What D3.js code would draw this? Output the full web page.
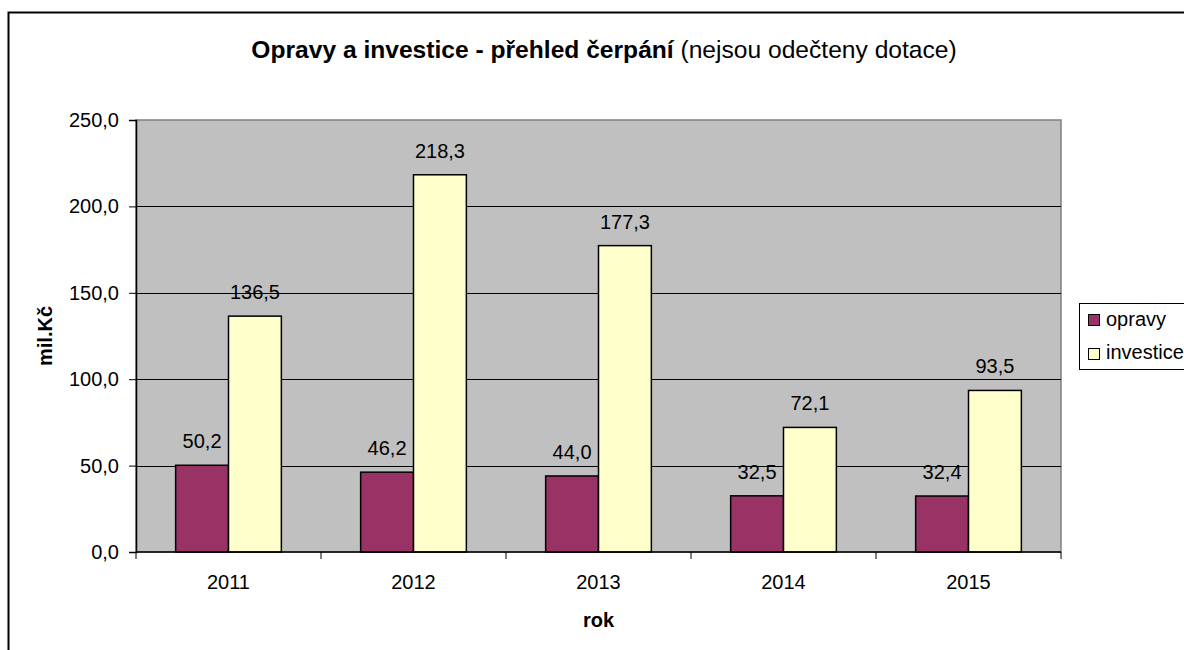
<!DOCTYPE html>
<html>
<head>
<meta charset="utf-8">
<script src="https://cdn.jsdelivr.net/npm/d3@7"></script>
<style>
  body { margin: 0; background: #fff; }
  svg { display: block; font-family: "Liberation Sans", Arial, sans-serif; }
</style>
</head>
<body>
<div id="viz"></div>
<script>
const years = ['2011', '2012', '2013', '2014', '2015'];
const opravy = [50.2, 46.2, 44.0, 32.5, 32.4];
const investice = [136.5, 218.3, 177.3, 72.1, 93.5];
const seriesNames = ['opravy', 'investice'];
const seriesColors = ['#993366', '#ffffcc'];
const yTicks = [0, 50, 100, 150, 200, 250];

const width = 1184;
const height = 650;
const margin = {top: 120, right: 123, bottom: 98, left: 136};
const fontSize = 20;

const fmt = v => d3.format('.1f')(v).replace('.', ',');

const svg = d3.select('#viz')
    .append('svg')
        .attr('width', width)
        .attr('height', height);

// outer chart frame (runs off the right / bottom edge like the original)
svg.append('rect')
    .attr('x', 8.5)
    .attr('y', 12.5)
    .attr('width', 1300)
    .attr('height', 700)
    .attr('fill', '#fff')
    .attr('stroke', '#000')
    .attr('stroke-width', 2);

const x0 = d3.scaleBand()
    .domain(years)
    .range([margin.left, width - margin.right]);

const barW = x0.bandwidth() / 3.5;

const x1 = d3.scaleBand()
    .domain(seriesNames)
    .range([0, 2 * barW]);

const y = d3.scaleLinear()
    .domain([0, 250])
    .range([height - margin.bottom, margin.top]);

// plot area
svg.append('rect')
    .attr('x', margin.left)
    .attr('y', margin.top)
    .attr('width', width - margin.left - margin.right)
    .attr('height', height - margin.top - margin.bottom)
    .attr('fill', '#c0c0c0')
    .attr('stroke', '#808080')
    .attr('stroke-width', 1.5);

// gridlines
svg.append('g')
    .selectAll('line')
    .data(yTicks.filter(d => d > 0 && d < 250))
    .join('line')
        .attr('x1', margin.left)
        .attr('x2', width - margin.right)
        .attr('y1', d => Math.round(y(d)) + 0.5)
        .attr('y2', d => Math.round(y(d)) + 0.5)
        .attr('stroke', '#000')
        .attr('stroke-width', 1);

const data = years.map((yr, i) => ({year: yr, values: [opravy[i], investice[i]]}));

const groups = svg.append('g')
    .selectAll('g')
    .data(data)
    .join('g')
        .attr('transform', d => `translate(${x0(d.year) + 0.75 * barW}, 0)`);

groups.selectAll('rect')
    .data(d => d.values.map((v, j) => ({name: seriesNames[j], value: v, j: j})))
    .join('rect')
        .attr('x', d => x1(d.name))
        .attr('y', d => y(d.value))
        .attr('width', x1.bandwidth())
        .attr('height', d => y(0) - y(d.value))
        .attr('fill', d => seriesColors[d.j])
        .attr('stroke', '#000')
        .attr('stroke-width', 1.5);

groups.selectAll('text')
    .data(d => d.values.map((v, j) => ({name: seriesNames[j], value: v})))
    .join('text')
        .attr('x', d => x1(d.name) + x1.bandwidth() / 2)
        .attr('y', d => y(d.value) - 17)
        .attr('text-anchor', 'middle')
        .attr('font-size', fontSize)
        .attr('fill', '#000')
        .text(d => fmt(d.value));

// y axis
const yAxis = svg.append('g')
    .attr('transform', `translate(${margin.left}, 0)`)
    .call(d3.axisLeft(y).tickValues(yTicks).tickSize(7).tickPadding(10).tickFormat(fmt));
yAxis.select('.domain').attr('stroke', '#000').attr('stroke-width', 1.5);
yAxis.selectAll('.tick line').attr('stroke', '#000');
yAxis.selectAll('text').attr('font-size', fontSize).attr('fill', '#000');
yAxis.attr('font-family', null);

// x axis with ticks on category boundaries
const xAxisG = svg.append('g')
    .attr('transform', `translate(0, ${height - margin.bottom})`);
xAxisG.append('line')
    .attr('x1', margin.left)
    .attr('x2', width - margin.right)
    .attr('stroke', '#000')
    .attr('stroke-width', 1.5);
xAxisG.selectAll('line.tk')
    .data(years.concat(['end']))
    .join('line')
        .attr('class', 'tk')
        .attr('x1', (d, i) => i < years.length ? x0(d) : x0.range()[1])
        .attr('x2', (d, i) => i < years.length ? x0(d) : x0.range()[1])
        .attr('y1', 0)
        .attr('y2', 7)
        .attr('stroke', '#000');
xAxisG.selectAll('text')
    .data(years)
    .join('text')
        .attr('x', d => x0(d) + x0.bandwidth() / 2)
        .attr('y', 37)
        .attr('text-anchor', 'middle')
        .attr('font-size', fontSize)
        .text(d => d);

// axis titles
svg.append('text')
    .attr('x', (margin.left + width - margin.right) / 2)
    .attr('y', 627)
    .attr('text-anchor', 'middle')
    .attr('font-size', fontSize)
    .attr('font-weight', 'bold')
    .text('rok');

svg.append('text')
    .attr('transform', `translate(52, ${(margin.top + height - margin.bottom) / 2}) rotate(-90)`)
    .attr('text-anchor', 'middle')
    .attr('font-size', fontSize)
    .attr('font-weight', 'bold')
    .text('mil.Kč');

// title
const title = svg.append('text')
    .attr('x', 604)
    .attr('y', 58)
    .attr('text-anchor', 'middle')
    .attr('font-size', 24.6);
title.append('tspan').attr('font-weight', 'bold').text('Opravy a investice - přehled čerpání');
title.append('tspan').text(' (nejsou odečteny dotace)');

// legend
const legend = svg.append('g').attr('transform', 'translate(1079, 303)');
legend.append('rect')
    .attr('x', 0.5)
    .attr('y', 0.5)
    .attr('width', 140)
    .attr('height', 66)
    .attr('fill', '#fff')
    .attr('stroke', '#000');
legend.selectAll('rect.sw')
    .data(seriesNames)
    .join('rect')
        .attr('class', 'sw')
        .attr('x', 9.5)
        .attr('y', (d, i) => 11.5 + i * 34)
        .attr('width', 11)
        .attr('height', 11)
        .attr('fill', (d, i) => seriesColors[i])
        .attr('stroke', '#000');
legend.selectAll('text')
    .data(seriesNames)
    .join('text')
        .attr('x', 27)
        .attr('y', (d, i) => 23 + i * 33)
        .attr('font-size', fontSize)
        .text(d => d);
</script>
</body>
</html>
